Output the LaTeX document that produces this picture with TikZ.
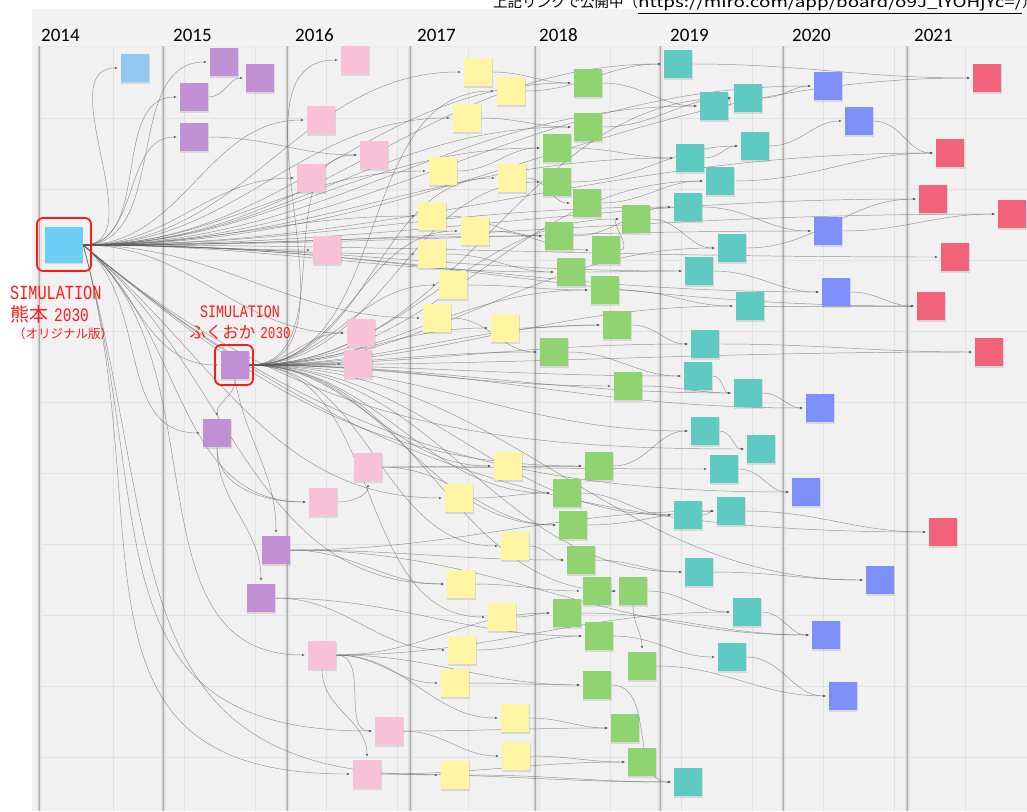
\documentclass[tikz,border=0pt]{standalone}
\usepackage{fontspec}
\setmainfont{Carlito}
\newfontfamily\jpf{Noto Sans CJK JP}
\newfontfamily\monof[FakeStretch=0.76]{Liberation Mono}
\usetikzlibrary{arrows.meta,shadows}
\pgfdeclarelayer{bgl}
\pgfdeclarelayer{edl}
\pgfsetlayers{bgl,edl,main}
\definecolor{cBl}{HTML}{93C8F0}
\definecolor{cKm}{HTML}{6CCEF2}
\definecolor{cPu}{HTML}{C08FD4}
\definecolor{cPk}{HTML}{F9C1D7}
\definecolor{cYe}{HTML}{FDF5A2}
\definecolor{cGr}{HTML}{8FD470}
\definecolor{cTe}{HTML}{5ECAC2}
\definecolor{cVi}{HTML}{7D8FF8}
\definecolor{cRd}{HTML}{F2627A}
\definecolor{cLab}{HTML}{FF1A1A}
\definecolor{cBoard}{HTML}{F1F1F1}
\definecolor{cHead}{HTML}{F3F3F3}
\definecolor{cGrid}{HTML}{E2E2E2}
\tikzset{
  note/.style={minimum width=28.5pt,minimum height=28.5pt,inner sep=0pt,fill=#1,
    drop shadow={opacity=0.22,shadow xshift=0.3pt,shadow yshift=-1.3pt}},
  bignote/.style={note=#1,minimum width=38pt,minimum height=36pt},
  ed/.style={draw=black!65,draw opacity=0.6,line width=0.48pt,
    -{Latex[length=3.2pt,width=2.6pt]},shorten >=2.5pt,out=0,in=180},
  redbox/.style={draw=cLab,line width=1.8pt,rounded corners=6pt},
  yearlab/.style={anchor=base west,inner sep=0pt,font=\fontsize{19}{19}\selectfont},
  redlab/.style={inner sep=0pt,text=cLab},
  gridl/.style={draw=cGrid,line width=0.6pt},
}
\begin{document}
\begin{tikzpicture}[x=1pt,y=-1pt]
\useasboundingbox (0,0) rectangle (1027,811);
% ---------- background ----------
\begin{pgfonlayer}{bgl}
\fill[white] (0,0) rectangle (1027,811);
\fill[cBoard] (32,9) rectangle (1027,811);
\fill[cHead] (32,9) rectangle (1027,46);
\foreach \x in {113,184,...,1027} \draw[gridl] (\x,46) -- (\x,811);
\foreach \y in {118,189,...,811} \draw[gridl] (39,\y) -- (1027,\y);
\draw[draw=black!8,line width=1pt] (39,46) -- (1027,46);
\foreach \x in {39,163,287,410,535,660,783,907}{
  \draw[draw=black!10,line width=5pt] (\x,46) -- (\x,811);
  \draw[draw=black!18,line width=2.6pt] (\x,46) -- (\x,811);
  \draw[draw=black!32,line width=0.9pt] (\x,46) -- (\x,811);
}
\end{pgfonlayer}
% ---------- header ----------
\node[anchor=base west,inner sep=0pt] (hdr) at (493,8)
  {\fontsize{14.5}{14.5}\selectfont\jpf 上記リンクで公開中（\scalebox{1.3}[1]{\underline{https://miro.com/app/board/o9J\_lYOHjYc=/}}）};
\node[yearlab] (yr14) at (41,41) {2014};
\node[yearlab] (yr15) at (173,41) {2015};
\node[yearlab] (yr16) at (295,41) {2016};
\node[yearlab] (yr17) at (417,41) {2017};
\node[yearlab] (yr18) at (539,41) {2018};
\node[yearlab] (yr19) at (670,41) {2019};
\node[yearlab] (yr20) at (792,41) {2020};
\node[yearlab] (yr21) at (914,41) {2021};
% ---------- notes ----------
\node[note=cBl] (b1) at (135,68) {};
\node[bignote=cKm] (K) at (64,245) {};
% purple
\node[note=cPu] (p1) at (224,62) {};
\node[note=cPu] (p2) at (260,78) {};
\node[note=cPu] (p3) at (194,97) {};
\node[note=cPu] (p4) at (194,137) {};
\node[note=cPu] (F) at (235,365) {};
\node[note=cPu] (p5) at (217,433) {};
\node[note=cPu] (p6) at (276,550) {};
\node[note=cPu] (p7) at (261,598) {};
% pink
\node[note=cPk] (k1) at (355,60) {};
\node[note=cPk] (k2) at (321,120) {};
\node[note=cPk] (k3) at (374,155) {};
\node[note=cPk] (k4) at (311,178) {};
\node[note=cPk] (k5) at (327,250) {};
\node[note=cPk] (k6) at (361,333) {};
\node[note=cPk] (k7) at (358,364) {};
\node[note=cPk] (k8) at (368,467) {};
\node[note=cPk] (k9) at (323,502) {};
\node[note=cPk] (k10) at (322,655) {};
\node[note=cPk] (k11) at (389,731) {};
\node[note=cPk] (k12) at (367,774) {};
% yellow
\node[note=cYe] (y1) at (478,72) {};
\node[note=cYe] (y2) at (511,91) {};
\node[note=cYe] (y3) at (467,118) {};
\node[note=cYe] (y4) at (443,171) {};
\node[note=cYe] (y5) at (512,178) {};
\node[note=cYe] (y6) at (432,216) {};
\node[note=cYe] (y7) at (475,231) {};
\node[note=cYe] (y8) at (432,254) {};
\node[note=cYe] (y9) at (453,285) {};
\node[note=cYe] (y10) at (437,318) {};
\node[note=cYe] (y11) at (505,328) {};
\node[note=cYe] (y12) at (508,466) {};
\node[note=cYe] (y13) at (459,498) {};
\node[note=cYe] (y14) at (515,546) {};
\node[note=cYe] (y15) at (461,584) {};
\node[note=cYe] (y16) at (502,617) {};
\node[note=cYe] (y17) at (462,650) {};
\node[note=cYe] (y18) at (455,683) {};
\node[note=cYe] (y19) at (515,718) {};
\node[note=cYe] (y20) at (516,756) {};
\node[note=cYe] (y21) at (455,775) {};
% green
\node[note=cGr] (g1) at (588,83) {};
\node[note=cGr] (g2) at (588,127) {};
\node[note=cGr] (g3) at (557,148) {};
\node[note=cGr] (g4) at (557,182) {};
\node[note=cGr] (g5) at (587,203) {};
\node[note=cGr] (g6) at (559,236) {};
\node[note=cGr] (g7) at (606,250) {};
\node[note=cGr] (g8) at (636,219) {};
\node[note=cGr] (g9) at (571,272) {};
\node[note=cGr] (g10) at (605,290) {};
\node[note=cGr] (g11) at (617,325) {};
\node[note=cGr] (g12) at (554,352) {};
\node[note=cGr] (g13) at (628,386) {};
\node[note=cGr] (g14) at (599,466) {};
\node[note=cGr] (g15) at (567,493) {};
\node[note=cGr] (g16) at (573,525) {};
\node[note=cGr] (g17) at (581,560) {};
\node[note=cGr] (g18) at (597,591) {};
\node[note=cGr] (g19) at (633,591) {};
\node[note=cGr] (g20) at (567,613) {};
\node[note=cGr] (g21) at (599,636) {};
\node[note=cGr] (g22) at (642,666) {};
\node[note=cGr] (g23) at (597,685) {};
\node[note=cGr] (g24) at (625,728) {};
\node[note=cGr] (g25) at (642,762) {};
% teal
\node[note=cTe] (t1) at (678,64) {};
\node[note=cTe] (t2) at (714,106) {};
\node[note=cTe] (t3) at (748,98) {};
\node[note=cTe] (t4) at (690,158) {};
\node[note=cTe] (t5) at (755,146) {};
\node[note=cTe] (t6) at (720,181) {};
\node[note=cTe] (t7) at (688,207) {};
\node[note=cTe] (t8) at (732,248) {};
\node[note=cTe] (t9) at (699,271) {};
\node[note=cTe] (t10) at (750,306) {};
\node[note=cTe] (t11) at (705,344) {};
\node[note=cTe] (t12) at (698,376) {};
\node[note=cTe] (t13) at (748,393) {};
\node[note=cTe] (t14) at (705,431) {};
\node[note=cTe] (t15) at (761,449) {};
\node[note=cTe] (t16) at (724,469) {};
\node[note=cTe] (t17) at (688,515) {};
\node[note=cTe] (t18) at (731,511) {};
\node[note=cTe] (t19) at (699,572) {};
\node[note=cTe] (t20) at (747,612) {};
\node[note=cTe] (t21) at (732,657) {};
\node[note=cTe] (t22) at (688,782) {};
% violet
\node[note=cVi] (v1) at (828,86) {};
\node[note=cVi] (v2) at (859,121) {};
\node[note=cVi] (v3) at (828,231) {};
\node[note=cVi] (v4) at (836,292) {};
\node[note=cVi] (v5) at (820,408) {};
\node[note=cVi] (v6) at (806,492) {};
\node[note=cVi] (v7) at (880,580) {};
\node[note=cVi] (v8) at (826,635) {};
\node[note=cVi] (v9) at (843,696) {};
% red
\node[note=cRd] (r1) at (987,78) {};
\node[note=cRd] (r2) at (950,153) {};
\node[note=cRd] (r3) at (933,199) {};
\node[note=cRd] (r4) at (1012,214) {};
\node[note=cRd] (r5) at (955,257) {};
\node[note=cRd] (r6) at (931,306) {};
\node[note=cRd] (r7) at (989,352) {};
\node[note=cRd] (r8) at (943,532) {};
% ---------- highlight boxes and labels ----------
\draw[redbox] (37,218) rectangle (91,271);
\draw[redbox] (215,345) rectangle (253,385);
\node[redlab,anchor=base west] (lab1) at (10,299) {\fontsize{20}{20}\selectfont\monof SIMULATION};
\node[redlab,anchor=base west] (lab2) at (10,321) {\fontsize{19}{19}\selectfont\jpf 熊本\hspace{6pt}\monof 2030};
\node[redlab,anchor=base west] (lab3) at (13,338) {\fontsize{12.5}{12.5}\selectfont\jpf （オリジナル版）};
\node[redlab,anchor=base] (lab4) at (240,317) {\fontsize{17.5}{17.5}\selectfont\monof SIMULATION};
\node[redlab,anchor=base] (lab5) at (240,338) {\fontsize{16.5}{16.5}\selectfont\jpf ふくおか\hspace{5pt}\monof 2030};
% ---------- connectors ----------
\begin{pgfonlayer}{edl}
\foreach \t in {b1,p1,p3,p4,k2,k4,k5,k6,y1,y3,y4,y6,y8,y10,g1,g2,g3,g6,g9,t1,t2,t4,t7,t9,v1,v3,v4,r1,r2,r3,r4,r5,r6}
  \draw[ed] (K.east) to (\t.west);
\foreach \t in {F,p5,k9,k10,y13,y15,g14,t15,v6,r8}
  \draw[ed,out=-40] (K.east) to (\t.west);
\foreach \t in {k11,k12,y21}
  \draw[ed,out=-75,looseness=1.3] (K.east) to (\t.west);
\foreach \t in {k1,k3,y2,y5,y7,y9,y11,g4,g8,g10,g11,t3,t6,t8,r7,k6,k7,y12,y14,y16,g12,g13,g15,g16,g19,t10,t11,t12,t13,t14,t17,t19,v5,v7}
  \draw[ed] (F.east) to (\t.west);
\draw[ed,out=-90,in=90] (F.south) to (p5.north);
\draw[ed,out=-80,in=90] (F.south) to (p6.north);
\draw[ed] (p3.east) to (p2.west);
\draw[ed] (p4.east) to (k3.west);
\draw[ed,out=-90,in=90] (p5.south) to (p7.north);
\draw[ed,out=-90,in=180] (p5.south) to (k9.west);
\foreach \t in {y15,g17,t18,v8} \draw[ed] (p6.east) to (\t.west);
\foreach \t in {y17,g21} \draw[ed] (p7.east) to (\t.west);
\draw[ed,out=0,in=-90] (k9.east) to (k8.south);
\foreach \t in {y12,g16,t16} \draw[ed] (k8.east) to (\t.west);
\foreach \t in {y18,y19,g20,g23,t20,k11} \draw[ed] (k10.east) to (\t.west);
\draw[ed,out=-90,in=90] (k10.south) to (k12.north);
\foreach \t in {y20,g24} \draw[ed] (k11.east) to (\t.west);
\foreach \t in {g25,t22} \draw[ed] (k12.east) to (\t.west);
% yellow -> green / teal
\draw[ed] (y1.east) to (g1.west);
\draw[ed] (y2.east) to (t1.west);
\draw[ed] (y3.east) to (g2.west);
\draw[ed] (y4.east) to (g3.west);
\draw[ed] (y5.east) to (g5.west);
\draw[ed] (y6.east) to (g6.west);
\draw[ed] (y7.east) to (g7.west);
\draw[ed] (y8.east) to (g9.west);
\draw[ed] (y9.east) to (g10.west);
\draw[ed] (y10.east) to (g12.west);
\draw[ed] (y11.east) to (g11.west);
\draw[ed] (y12.east) to (g14.west);
\draw[ed] (y13.east) to (g15.west);
\draw[ed] (y14.east) to (g17.west);
\draw[ed] (y15.east) to (g18.west);
\draw[ed] (y16.east) to (g20.west);
\draw[ed] (y17.east) to (g21.west);
\draw[ed] (y18.east) to (g23.west);
\draw[ed] (y19.east) to (g24.west);
\draw[ed] (y20.east) to (g25.west);
\draw[ed] (y21.east) to (t22.west);
% green -> teal / violet
\draw[ed] (g1.east) to (t2.west);
\draw[ed] (g2.east) to (t3.west);
\draw[ed] (g3.east) to (t4.west);
\draw[ed] (g4.east) to (t5.west);
\draw[ed] (g5.east) to (t6.west);
\draw[ed] (g6.east) to (t7.west);
\draw[ed] (g7.east) to (g8.west);
\draw[ed] (g8.east) to (t8.west);
\draw[ed] (g9.east) to (t9.west);
\draw[ed] (g10.east) to (t10.west);
\draw[ed] (g11.east) to (t11.west);
\draw[ed] (g12.east) to (t12.west);
\draw[ed] (g13.east) to (t13.west);
\draw[ed] (g14.east) to (t14.west);
\draw[ed] (g15.east) to (t17.west);
\draw[ed] (g16.east) to (t18.west);
\draw[ed] (g17.east) to (t19.west);
\draw[ed] (g18.east) to (g19.west);
\draw[ed] (g19.east) to (t20.west);
\draw[ed,out=-90,in=90] (g19.south) to (g22.north);
\draw[ed] (g20.east) to (v8.west);
\draw[ed] (g21.east) to (t21.west);
\draw[ed] (g22.east) to (v9.west);
\draw[ed] (g23.east) to (t22.west);
% teal -> violet / red
\draw[ed] (t1.east) to (r1.west);
\draw[ed] (t2.east) to (t3.west);
\draw[ed] (t3.east) to (v1.west);
\draw[ed] (t4.east) to (t5.west);
\draw[ed] (t5.east) to (v2.west);
\draw[ed] (t6.east) to (r2.west);
\draw[ed] (t7.east) to (v3.west);
\draw[ed] (t8.east) to (r3.west);
\draw[ed] (t9.east) to (v4.west);
\draw[ed] (t10.east) to (r6.west);
\draw[ed] (t11.east) to (r7.west);
\draw[ed] (t12.east) to (t13.west);
\draw[ed] (t13.east) to (v5.west);
\draw[ed] (t14.east) to (t15.west);
\draw[ed] (t16.east) to (v6.west);
\draw[ed] (t17.east) to (t18.west);
\draw[ed] (t18.east) to (r8.west);
\draw[ed] (t19.east) to (v7.west);
\draw[ed] (t20.east) to (v8.west);
\draw[ed] (t21.east) to (v9.west);
\draw[ed] (v2.east) to (r2.west);
\draw[ed] (v3.east) to (r4.west);
\draw[ed] (v4.east) to (r6.west);
\end{pgfonlayer}
\end{tikzpicture}
\end{document}
